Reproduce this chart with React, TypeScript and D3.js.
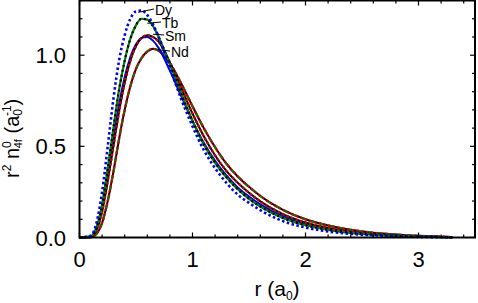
import React from "react";
import * as d3 from "d3";

const rGrid = [0, 0.1, 0.15, 0.2, 0.25, 0.3, 0.35, 0.4, 0.45, 0.5, 0.55, 0.6, 0.65, 0.7, 0.8, 0.9, 1.0, 1.1, 1.2, 1.3, 1.4, 1.5, 1.6, 1.8, 2.0, 2.2, 2.4, 2.6, 2.8, 3.0, 3.2, 3.3];

const dyValues = [0, 0.01, 0.08, 0.25, 0.5, 0.76, 0.97, 1.11, 1.2, 1.24, 1.245, 1.22, 1.17, 1.1, 0.93, 0.76, 0.61, 0.48, 0.38, 0.3, 0.235, 0.19, 0.15, 0.09, 0.055, 0.033, 0.02, 0.012, 0.007, 0.0035, 0.0015, 0.001];
const tbValues = [0, 0.006, 0.055, 0.18, 0.38, 0.6, 0.81, 0.97, 1.09, 1.165, 1.2, 1.195, 1.16, 1.1, 0.95, 0.79, 0.64, 0.51, 0.41, 0.33, 0.265, 0.212, 0.17, 0.107, 0.067, 0.042, 0.025, 0.015, 0.009, 0.005, 0.0025, 0.001];
const smValues = [0, 0.004, 0.04, 0.14, 0.31, 0.5, 0.69, 0.85, 0.97, 1.05, 1.095, 1.11, 1.1, 1.075, 0.96, 0.82, 0.68, 0.555, 0.45, 0.365, 0.3, 0.245, 0.198, 0.128, 0.082, 0.052, 0.032, 0.019, 0.011, 0.006, 0.003, 0.0015];
const smAltValues = [0, 0.005, 0.048, 0.16, 0.34, 0.54, 0.73, 0.88, 0.99, 1.06, 1.095, 1.1, 1.08, 1.04, 0.915, 0.775, 0.64, 0.52, 0.42, 0.34, 0.275, 0.225, 0.182, 0.117, 0.075, 0.047, 0.029, 0.017, 0.01, 0.0055, 0.0028, 0.0014];
const ndValues = [0, 0.002, 0.02, 0.08, 0.2, 0.36, 0.54, 0.7, 0.83, 0.925, 0.985, 1.02, 1.035, 1.025, 0.955, 0.845, 0.72, 0.6, 0.495, 0.405, 0.335, 0.278, 0.228, 0.152, 0.1, 0.066, 0.042, 0.026, 0.016, 0.009, 0.0045, 0.002];

const xTicks = [0, 1, 2, 3];
const yTicks = [0, 0.5, 1.0];
const labels = ["Dy", "Tb", "Sm", "Nd"];
const labelLineR0 = [0.52, 0.6, 0.65, 0.69];
const labelLineV = [1.235, 1.175, 1.115, 1.03];

const FONT = "'Liberation Sans', Arial, Helvetica, sans-serif";

export default function App() {
  const W = 478, H = 303;
  const x = d3.scaleLinear().domain([0, 3.5]).range([79.5, 475]);
  const y = d3.scaleLinear().domain([0, 1.3]).range([237.5, 0.5]);

  const line = (vals: number[]) =>
    d3.line<number>()
      .x((_, i) => x(rGrid[i]))
      .y((v) => y(v))
      .curve(d3.curveMonotoneX)(vals) || "";

  const xMinor = d3.range(0, 3.5001, 0.2).map((v) => +v.toFixed(2));
  const yMinor = d3.range(0, 1.3001, 0.1).map((v) => +v.toFixed(2));

  const curves = [
    { vals: ndValues, color: "#000", w: 2, dash: undefined },
    { vals: ndValues, color: "#d00000", w: 2.4, dash: "2.4 2.4" },
    { vals: ndValues, color: "#008000", w: 2.4, dash: "2.4 7.2", off: 2.4 },
    { vals: smAltValues, color: "#0000e0", w: 2, dash: undefined },
    { vals: smValues, color: "#000", w: 2, dash: undefined },
    { vals: smValues, color: "#d00000", w: 2.4, dash: "2.4 2.4" },
    { vals: tbValues, color: "#008000", w: 2.2, dash: undefined },
    { vals: tbValues, color: "#000", w: 2.2, dash: "2 3" },
    { vals: dyValues, color: "#0000f0", w: 2.6, dash: "2.5 2.5" },
  ];

  const textY = [15, 28, 41, 57];
  const textX = [155, 162, 165, 171];

  return (
    <svg width={W} height={H} style={{ position: "absolute", left: 0, top: 0, background: "#fff" }}>
      <g>
        {curves.map((c, i) => (
          <path key={i} d={line(c.vals)} fill="none" stroke={c.color} strokeWidth={c.w}
            strokeDasharray={c.dash} strokeDashoffset={(c as any).off || 0} />
        ))}
      </g>
      <rect x={x(0)} y={y(1.3)} width={x(3.5) - x(0)} height={y(0) - y(1.3)} fill="none" stroke="#000" strokeWidth={2} />
      {xMinor.map((v, i) => {
        const major = Math.abs(v - Math.round(v)) < 1e-6;
        const len = major ? 5 : 3;
        return (
          <g key={"xt" + i}>
            <line x1={x(v)} x2={x(v)} y1={y(0)} y2={y(0) - len} stroke="#000" strokeWidth={1.2} />
            <line x1={x(v)} x2={x(v)} y1={y(1.3)} y2={y(1.3) + len} stroke="#000" strokeWidth={1.2} />
          </g>
        );
      })}
      {yMinor.map((v, i) => {
        const major = Math.abs(v * 2 - Math.round(v * 2)) < 1e-6;
        const len = major ? 5 : 3;
        return (
          <g key={"yt" + i}>
            <line x1={x(0)} x2={x(0) + len} y1={y(v)} y2={y(v)} stroke="#000" strokeWidth={1.2} />
            <line x1={x(3.5)} x2={x(3.5) - len} y1={y(v)} y2={y(v)} stroke="#000" strokeWidth={1.2} />
          </g>
        );
      })}
      {xTicks.map((v) => (
        <text key={"xl" + v} x={x(v)} y={267} textAnchor="middle" fontFamily={FONT} fontSize={22} fill="#000">{v}</text>
      ))}
      {yTicks.map((v) => (
        <text key={"yl" + v} x={66} y={y(v) + 8} textAnchor="end" fontFamily={FONT} fontSize={22} fill="#000">{v.toFixed(1)}</text>
      ))}
      <text x={277} y={296} textAnchor="middle" fontFamily={FONT} fontSize={21} fill="#000">
        r (a<tspan fontSize={12} dy={4}>0</tspan><tspan dy={-4}>)</tspan>
      </text>
      <text transform="translate(19,178) rotate(-90)" textAnchor="start" fontFamily={FONT} fontSize={20} fill="#000">
        r<tspan fontSize={12} dy={-8}>2</tspan>
        <tspan dy={8}> n</tspan><tspan fontSize={12} dy={-8}>0</tspan>
        <tspan fontSize={11} dx={-7} dy={11}>4f</tspan>
        <tspan dy={-3}> (a</tspan><tspan fontSize={12} dy={3}>0</tspan>
        <tspan fontSize={12} dx={-7} dy={-11}>-1</tspan>
        <tspan dy={8}>)</tspan>
      </text>
      {labels.map((lab, i) => (
        <g key={lab}>
          <line x1={x(labelLineR0[i])} x2={textX[i] - 1} y1={y(labelLineV[i])} y2={textY[i] - 6}
            stroke="#000" strokeWidth={1} />
          <text x={textX[i]} y={textY[i]} fontFamily={FONT} fontSize={14} fill="#000">{lab}</text>
        </g>
      ))}
    </svg>
  );
}
